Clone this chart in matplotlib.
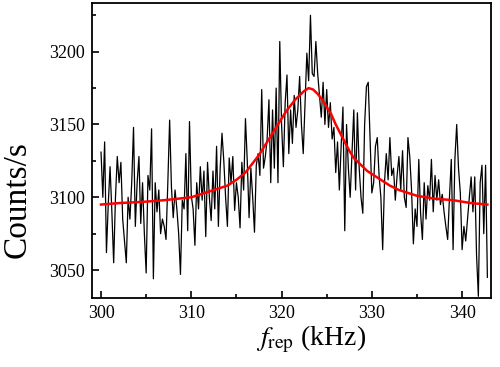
#! /usr/bin/env python
import numpy as np
import matplotlib
matplotlib.use('Agg')
import matplotlib.pyplot as plt

# measured count rate, one point every 0.2 kHz starting at 300 kHz
f_start = 300.0
f_step = 0.2
counts = [
    # 300.0 - 306.6
    3131, 3100, 3138, 3062, 3095, 3121, 3090, 3055, 3100, 3128,
    3110, 3124, 3085, 3070, 3055, 3100, 3085, 3110, 3148, 3080,
    3110, 3128, 3082, 3110, 3075, 3048, 3115, 3105, 3147, 3044,
    3110, 3090, 3105, 3075,
    # 306.8 - 314.2
    3085, 3080, 3071, 3110, 3153, 3107, 3086, 3105, 3092, 3075,
    3047, 3098, 3092, 3130, 3077, 3152, 3101, 3092, 3067, 3110,
    3092, 3121, 3098, 3118, 3073, 3124, 3100, 3084, 3118, 3092,
    3135, 3080, 3120, 3144, 3125, 3100, 3080, 3127,
    # 314.4 - 322.4
    3110, 3128, 3091, 3110, 3100, 3079, 3124, 3105, 3154, 3125,
    3086, 3120, 3100, 3076, 3122, 3130, 3115, 3174, 3120, 3128,
    3140, 3167, 3110, 3160, 3120, 3175, 3110, 3207, 3150, 3121,
    3165, 3184, 3130, 3160, 3137, 3170, 3148, 3160, 3183, 3150,
    3130,
    # 322.6 - 330.0
    3165, 3199, 3180, 3225, 3185, 3183, 3207, 3185, 3170, 3155,
    3179, 3150, 3174, 3148, 3165, 3140, 3148, 3117, 3138, 3105,
    3135, 3162, 3077, 3150, 3120, 3100, 3130, 3160, 3105, 3158,
    3120, 3100, 3089, 3150, 3176, 3179, 3140, 3103,
    # 330.2 - 335.4
    3110, 3135, 3141, 3115, 3100, 3064, 3110, 3130, 3112, 3141,
    3115, 3120, 3098, 3115, 3128, 3105, 3132, 3100, 3093, 3141,
    3128, 3105, 3068, 3092, 3080, 3126, 3089,
    # 335.6 - 342.8
    3071, 3110, 3085, 3108, 3098, 3126, 3090, 3115, 3098, 3112,
    3095, 3102, 3090, 3080, 3071, 3100, 3126, 3064, 3126, 3150,
    3120, 3103, 3064, 3080, 3070, 3085, 3100, 3114, 3090, 3114,
    3060, 3032, 3110, 3122, 3075, 3122, 3045,
]

# lorentzian fit
fit_freq = [300.0, 302.0, 305.0, 307.0, 310.0, 312.0, 314.0, 315.0,
            316.0, 316.5, 317.0, 317.5, 318.0, 318.5, 319.0, 319.5,
            320.0, 320.5, 321.0, 321.5, 322.0, 322.5, 323.0, 323.5,
            324.0, 324.5, 325.0, 325.5, 326.0, 326.5, 327.0, 327.5,
            328.0, 328.5, 329.0, 329.5, 330.0, 331.0, 332.0, 333.0,
            334.0, 335.0, 337.0, 339.0, 341.0, 342.8]
fit_counts = [3095, 3096, 3097, 3098, 3100, 3104, 3108, 3112,
              3117, 3121, 3125, 3129, 3134, 3139, 3144, 3149,
              3154, 3159, 3163, 3167, 3170, 3173, 3175, 3174,
              3171, 3167, 3162, 3157, 3150, 3144, 3138, 3132,
              3127, 3124, 3121, 3118, 3116, 3112, 3108, 3105,
              3103, 3101, 3099, 3098, 3096, 3095]

x_ticks = [300, 310, 320, 330, 340]
y_ticks = [3050, 3100, 3150, 3200]


def main():
    plt.rcParams['font.family'] = ['Liberation Serif', 'DejaVu Serif']
    plt.rcParams['mathtext.fontset'] = 'stix'

    freq = f_start + f_step*np.arange(len(counts))

    fig = plt.figure(figsize=(5.0, 3.67), dpi=100)
    ax = fig.add_axes([0.184, 0.188, 0.798, 0.804])

    ax.plot(freq, counts, color='black', lw=0.9)
    ax.plot(fit_freq, fit_counts, color='red', lw=1.8)

    ax.set_xlim(299.0, 343.2)
    ax.set_ylim(3030.8, 3233.5)
    ax.set_xticks(x_ticks)
    ax.set_yticks(y_ticks)
    ax.set_xticks(np.arange(305, 345, 10), minor=True)
    ax.set_yticks(np.arange(3075, 3250, 50), minor=True)

    ax.tick_params(which='both', direction='in', top=False, right=False,
                   labelsize=13, width=1.2, pad=5)
    ax.tick_params(which='major', length=5)
    ax.tick_params(which='minor', length=3)
    for sp in ax.spines.values():
        sp.set_linewidth(1.3)

    ax.set_xlabel(r'$f_{\mathrm{rep}}$ (kHz)', fontsize=20)
    ax.set_ylabel('Counts/s', fontsize=24)
    ax.xaxis.set_label_coords(0.55, -0.088)
    ax.yaxis.set_label_coords(-0.15, 0.335)

    fig.savefig('out.png', dpi=100)

if __name__ == '__main__':
    main()
